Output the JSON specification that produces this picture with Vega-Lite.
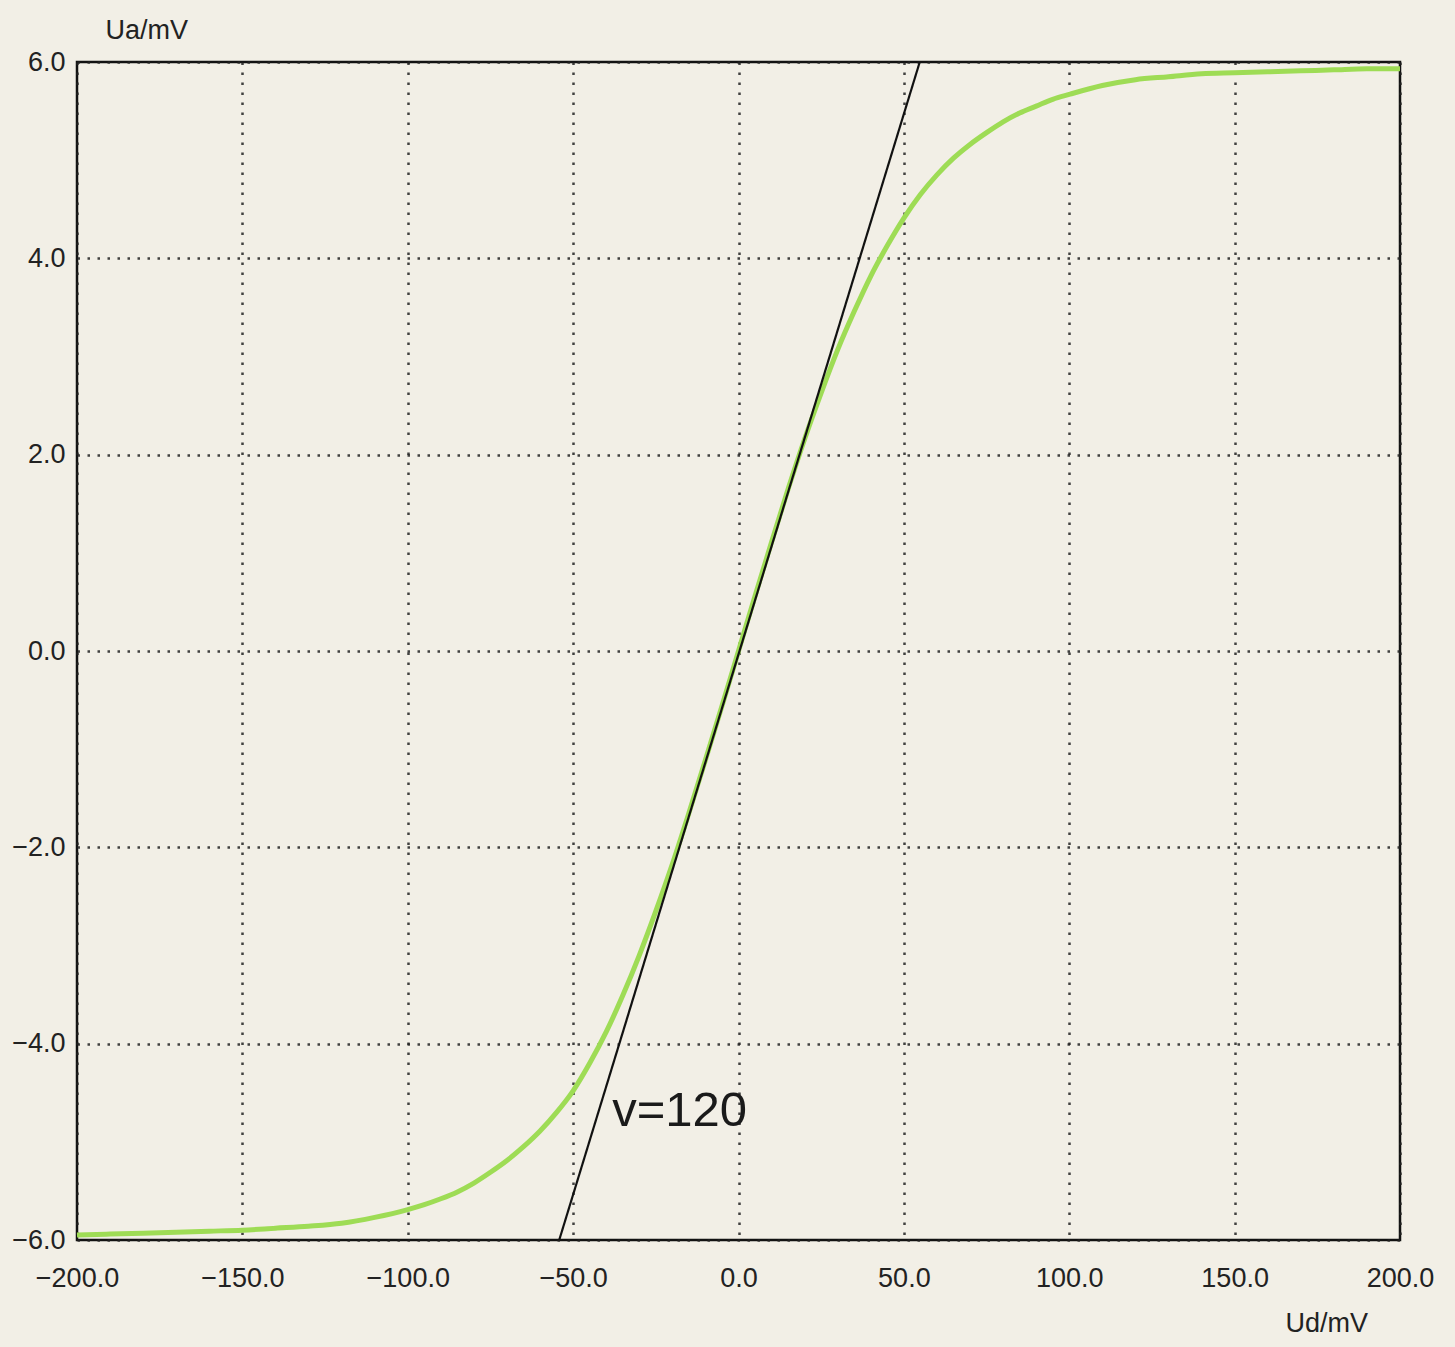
{
  "$schema": "https://vega.github.io/schema/vega-lite/v6.json",
  "autosize": "none",
  "width": 1323,
  "height": 1178,
  "padding": {"left": 77, "top": 62, "right": 55, "bottom": 107},
  "background": "#f2efe6",
  "config": {
    "view": {"stroke": "#111111", "strokeWidth": 2.5, "fill": "#f2efe6"},
    "font": "Liberation Sans",
    "axis": {
      "domain": false,
      "ticks": false,
      "grid": true,
      "gridColor": "#222222",
      "gridDash": [2.5, 7.5],
      "gridWidth": 2.5,
      "gridOpacity": 0.85,
      "labelFlush": false,
      "labelOverlap": false,
      "labelFont": "Liberation Sans",
      "labelFontSize": 27,
      "labelColor": "#222222",
      "titleFont": "Liberation Sans",
      "titleFontSize": 27,
      "titleFontWeight": "normal",
      "titleColor": "#222222"
    }
  },
  "datasets": {
    "curve": [
      {"ud": -200, "ua": -5.95}, {"ud": -190, "ua": -5.94}, {"ud": -180, "ua": -5.93}, {"ud": -170, "ua": -5.92},
      {"ud": -160, "ua": -5.91}, {"ud": -150, "ua": -5.90}, {"ud": -140, "ua": -5.88}, {"ud": -130, "ua": -5.86},
      {"ud": -120, "ua": -5.83}, {"ud": -110, "ua": -5.77}, {"ud": -100, "ua": -5.69}, {"ud": -95, "ua": -5.64},
      {"ud": -90, "ua": -5.58}, {"ud": -85, "ua": -5.51}, {"ud": -80, "ua": -5.42}, {"ud": -75, "ua": -5.31},
      {"ud": -70, "ua": -5.19}, {"ud": -65, "ua": -5.05}, {"ud": -60, "ua": -4.89}, {"ud": -55, "ua": -4.70},
      {"ud": -50, "ua": -4.48}, {"ud": -45, "ua": -4.20}, {"ud": -40, "ua": -3.88}, {"ud": -35, "ua": -3.51},
      {"ud": -30, "ua": -3.10}, {"ud": -25, "ua": -2.65}, {"ud": -20, "ua": -2.17}, {"ud": -15, "ua": -1.65},
      {"ud": -10, "ua": -1.11}, {"ud": -5, "ua": -0.56}, {"ud": 0, "ua": 0},
      {"ud": 5, "ua": 0.56}, {"ud": 10, "ua": 1.11}, {"ud": 15, "ua": 1.65}, {"ud": 20, "ua": 2.16},
      {"ud": 25, "ua": 2.63}, {"ud": 30, "ua": 3.07}, {"ud": 35, "ua": 3.46}, {"ud": 40, "ua": 3.82},
      {"ud": 45, "ua": 4.13}, {"ud": 50, "ua": 4.41}, {"ud": 55, "ua": 4.65}, {"ud": 60, "ua": 4.85},
      {"ud": 65, "ua": 5.02}, {"ud": 70, "ua": 5.16}, {"ud": 75, "ua": 5.28}, {"ud": 80, "ua": 5.39},
      {"ud": 85, "ua": 5.48}, {"ud": 90, "ua": 5.55}, {"ud": 95, "ua": 5.62}, {"ud": 100, "ua": 5.67},
      {"ud": 110, "ua": 5.76}, {"ud": 120, "ua": 5.82}, {"ud": 130, "ua": 5.85}, {"ud": 140, "ua": 5.88},
      {"ud": 150, "ua": 5.89}, {"ud": 160, "ua": 5.90}, {"ud": 170, "ua": 5.91}, {"ud": 180, "ua": 5.92},
      {"ud": 190, "ua": 5.93}, {"ud": 200, "ua": 5.93}
    ],
    "tangent": [
      {"ud": -54.2, "ua": -6.0},
      {"ud": 54.8, "ua": 6.0}
    ],
    "label": [
      {"ud": -38.2, "ua": -4.69, "text": "v=120"}
    ]
  },
  "encoding": {
    "x": {
      "field": "ud", "type": "quantitative",
      "scale": {"domain": [-200, 200], "nice": false, "zero": false},
      "axis": {
        "values": [-200, -150, -100, -50, 0, 50, 100, 150, 200],
        "format": ".1f",
        "labelPadding": 25,
        "title": "Ud/mV",
        "titleAnchor": "start",
        "titleAlign": "left",
        "titleBaseline": "middle",
        "titleX": 1208,
        "titleY": 83
      }
    },
    "y": {
      "field": "ua", "type": "quantitative",
      "scale": {"domain": [-6, 6], "nice": false, "zero": false},
      "axis": {
        "values": [-6, -4, -2, 0, 2, 4, 6],
        "format": ".1f",
        "labelPadding": 12,
        "title": "Ua/mV",
        "titleAngle": 0,
        "titleAlign": "left",
        "titleBaseline": "middle",
        "titleX": 28,
        "titleY": -32
      }
    }
  },
  "layer": [
    {
      "data": {"name": "curve"},
      "mark": {"type": "line", "color": "#9edc55", "strokeWidth": 5, "interpolate": "monotone"}
    },
    {
      "data": {"name": "tangent"},
      "mark": {"type": "line", "color": "#111111", "strokeWidth": 2.2}
    },
    {
      "data": {"name": "label"},
      "mark": {"type": "text", "align": "left", "baseline": "middle", "fontSize": 49, "color": "#1a1a1a", "font": "Liberation Sans"},
      "encoding": {"text": {"field": "text"}}
    }
  ]
}
